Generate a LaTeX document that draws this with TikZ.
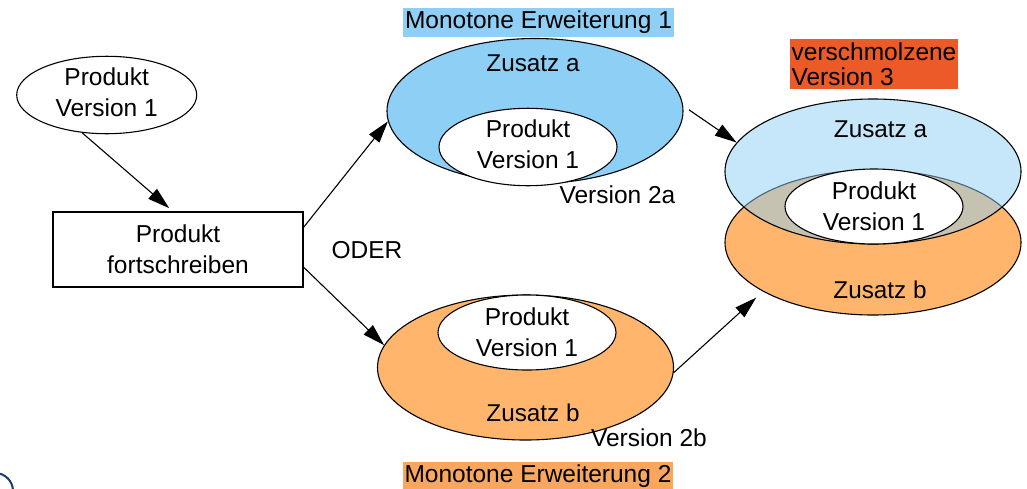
\documentclass[tikz,border=0pt]{standalone}
\usepackage{fontspec}
\setmainfont{Liberation Sans}
\usetikzlibrary{arrows.meta,shapes.geometric}

\definecolor{erwblau}{HTML}{8ECFF6}
\definecolor{erworange}{HTML}{FFB66C}
\definecolor{bannerblau}{HTML}{8FCFF5}
\definecolor{bannerorange}{HTML}{F9A75E}
\definecolor{bannerrot}{HTML}{EB5A27}
\definecolor{logoblau}{HTML}{1F3A6E}

\begin{document}
\begin{tikzpicture}[
  x=1pt, y=-1pt,
  >={Triangle[length=22pt,width=13pt]},
  txt/.style={
    font=\fontsize{24.5}{31}\selectfont,
    align=center,
    inner sep=0pt
  },
  zusatz/.style={
    font=\fontsize{24.3}{28}\selectfont,
    inner sep=0pt
  },
  ring/.style={
    draw,
    ellipse,
    line width=1.1pt,
    minimum width=296pt,
    minimum height=145pt,
    inner sep=0pt
  },
  kern/.style={
    txt,
    draw,
    ellipse,
    fill=white,
    line width=1.1pt,
    minimum width=178pt,
    minimum height=75pt
  },
  block/.style={
    txt,
    draw,
    line width=1.1pt,
    minimum width=250pt,
    minimum height=75pt
  },
  banner/.style={txt, minimum height=29pt, inner xsep=2pt},
  arrow/.style={->, line width=1.1pt}
]
\useasboundingbox (0,0) rectangle (1027,488);

% Ausgangsprodukt
\node[kern, minimum width=180pt, minimum height=74pt, text depth=6pt] (prod) at (106.7,95) {Produkt\\Version 1};
\node[block] (fort) at (178,249.5) {Produkt\\fortschreiben};
\node[txt] (oder) at (367,250) {ODER};

% Monotone Erweiterung 1
\node[ring, fill=erwblau] (erwA) at (535,111) {};
\node[kern, text depth=6pt] (kernA) at (528,147) {Produkt\\Version 1};
\node[zusatz] (zusA) at (533,63) {Zusatz a};
\node[txt] (verA) at (617.5,195) {Version 2a};
\node[banner, fill=bannerblau] (titelA) at (538.5,22.5) {Monotone Erweiterung 1};

% Monotone Erweiterung 2
\node[ring, fill=erworange] (erwB) at (525.5,367.5) {};
\node[kern] (kernB) at (527,332.5) {Produkt\\Version 1};
\node[zusatz] (zusB) at (533,412.5) {Zusatz b};
\node[txt] (verB) at (649,438) {Version 2b};
\node[banner, fill=bannerorange] (titelB) at (538,476.5) {Monotone Erweiterung 2};

% verschmolzene Version 3
\node[ring, fill=erworange] (mergeB) at (873,242.5) {};
\node[ring, fill=erwblau, fill opacity=0.5] (mergeA) at (873,171.5) {};
\node[kern] (kernC) at (874,206.5) {Produkt\\Version 1};
\node[zusatz] (zusC) at (880.5,129) {Zusatz a};
\node[zusatz] (zusD) at (880,290) {Zusatz b};
\node[txt, fill=bannerrot, align=left, font=\fontsize{24.5}{25}\selectfont,
      minimum width=168pt, minimum height=50pt, inner xsep=1pt] (titelC) at (874,64) {verschmolzene\\Version 3};

% Pfeile
\draw[arrow, shorten >=5pt] (prod.237) -- ([xshift=-5pt]fort.north);
\draw[arrow] (fort.10) -- (erwA.184);
\draw[arrow] (fort.352) -- (erwB.171);
\draw[arrow, shorten <=7pt] (erwA.2) -- (mergeA.168);
\draw[arrow, shorten >=9pt] (erwB.358) -- (mergeB.204);

% Logo unten links
\draw[logoblau, line width=2pt] (-5,491) circle [radius=18pt];

\end{tikzpicture}
\end{document}
